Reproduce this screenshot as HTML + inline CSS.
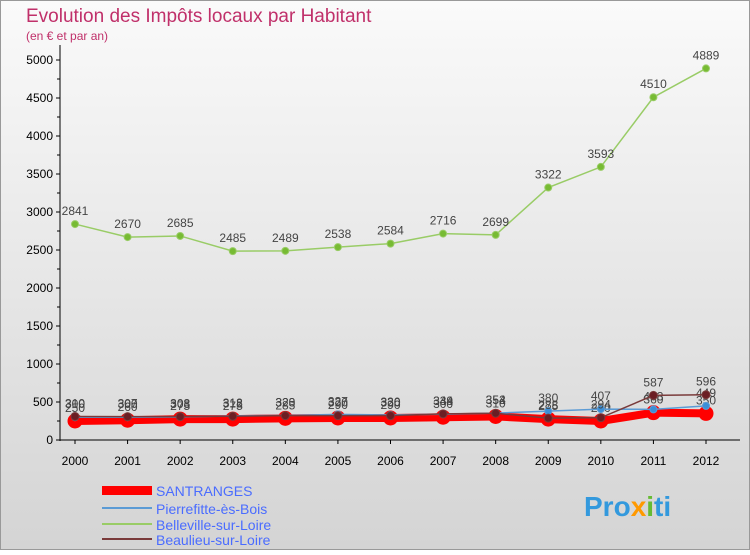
<!DOCTYPE html>
<html><head><meta charset="utf-8"><style>
body{margin:0;width:750px;height:550px;overflow:hidden;font-family:"Liberation Sans",sans-serif}
</style></head><body>
<svg width="750" height="550">
<defs><linearGradient id="bg" x1="0" y1="0" x2="0" y2="1"><stop offset="0" stop-color="#fafafa"/><stop offset="1" stop-color="#d4d4d4"/></linearGradient></defs>
<rect x="0.5" y="0.5" width="749" height="549" fill="url(#bg)" stroke="#999"/>
<text x="26" y="22" font-size="19" fill="#c0306a">Evolution des Impôts locaux par Habitant</text>
<text x="26" y="40" font-size="12" fill="#c0306a">(en € et par an)</text>
<g id="axes"></g><g id="series"></g>
<g>
<rect x="102" y="486" width="50" height="9" fill="#ff0000"/>
<text x="156" y="496" font-size="14" fill="#4a6cff">SANTRANGES</text>
<rect x="102" y="507" width="50" height="2" fill="#5b9bd5"/>
<text x="156" y="514" font-size="14" fill="#4a6cff">Pierrefitte-ès-Bois</text>
<rect x="102" y="523" width="50" height="2" fill="#99cc66"/>
<text x="156" y="530" font-size="14" fill="#4a6cff">Belleville-sur-Loire</text>
<rect x="102" y="538" width="50" height="2" fill="#7a3b3b"/>
<text x="156" y="545" font-size="14" fill="#4a6cff">Beaulieu-sur-Loire</text>
</g>
<text x="584" y="516" font-size="28" font-weight="bold" fill="#3399dd">Pro<tspan fill="#ff9900">x</tspan><tspan fill="#66bb33">i</tspan>ti</text>
</svg>
<script>
const years=[2000,2001,2002,2003,2004,2005,2006,2007,2008,2009,2010,2011,2012];
const yTicks=[0,500,1000,1500,2000,2500,3000,3500,4000,4500,5000];
const santranges=[250,260,275,275,285,290,290,300,310,275,250,360,350];
const pierrefitte=[300,300,303,318,323,337,330,339,354,380,407,403,449];
const belleville=[2841,2670,2685,2485,2489,2538,2584,2716,2699,3322,3593,4510,4889];
const beaulieu=[310,307,308,312,320,320,320,344,352,288,294,587,596];
const NS="http://www.w3.org/2000/svg";
const X=i=>75+i*(706-75)/(years.length-1);
const Y=v=>440-v*(380/5000);
function mk(t,a,p){const e=document.createElementNS(NS,t);for(const k in a)e.setAttribute(k,a[k]);p.appendChild(e);return e;}
const ax=document.getElementById('axes'),sg=document.getElementById('series');
mk('line',{x1:60,y1:45,x2:60,y2:441,stroke:'#000'},ax);
mk('line',{x1:60,y1:440,x2:740,y2:440,stroke:'#000'},ax);
yTicks.forEach(v=>{const t=mk('text',{x:53,y:Y(v)+4,'font-size':12,'text-anchor':'end',fill:'#000'},ax);t.textContent=v;


mk('line',{x1:56,y1:Y(v),x2:60,y2:Y(v),stroke:'#000'},ax);
if(v<5000)mk('line',{x1:57,y1:Y(v+250),x2:60,y2:Y(v+250),stroke:'#000'},ax);});
years.forEach((y,i)=>{const t=mk('text',{x:X(i),y:465,'font-size':12,'text-anchor':'middle'},ax);t.textContent=y;


mk('line',{x1:X(i),y1:440,x2:X(i),y2:444,stroke:'#000'},ax);});
function series(d,col,w,r,dot,name,labels){
const g=mk('g',{},sg);


mk('polyline',{points:d.map((v,i)=>X(i)+','+Y(v)).join(' '),fill:'none',stroke:col,'stroke-width':w},g);
d.forEach((v,i)=>{const c=mk('circle',{cx:X(i),cy:Y(v),r:r,fill:dot,stroke:col,'stroke-width':1},g);


if(labels){const t=mk('text',{x:X(i),y:Y(v)-9,'font-size':12,'text-anchor':'middle',fill:'#444'},g);t.textContent=v;}});}
series(santranges,'#ff0000',8,7,'#ff0000','series-santranges',true);
series(pierrefitte,'#5b9bd5',1.5,3.5,'#3a8fd8','series-pierrefitte',true);
series(belleville,'#99cc66',1.5,3.5,'#77bb33','series-belleville',true);
series(beaulieu,'#7a3b3b',1.5,4,'#6b1e24','series-beaulieu',true);
</script>
</body></html>
